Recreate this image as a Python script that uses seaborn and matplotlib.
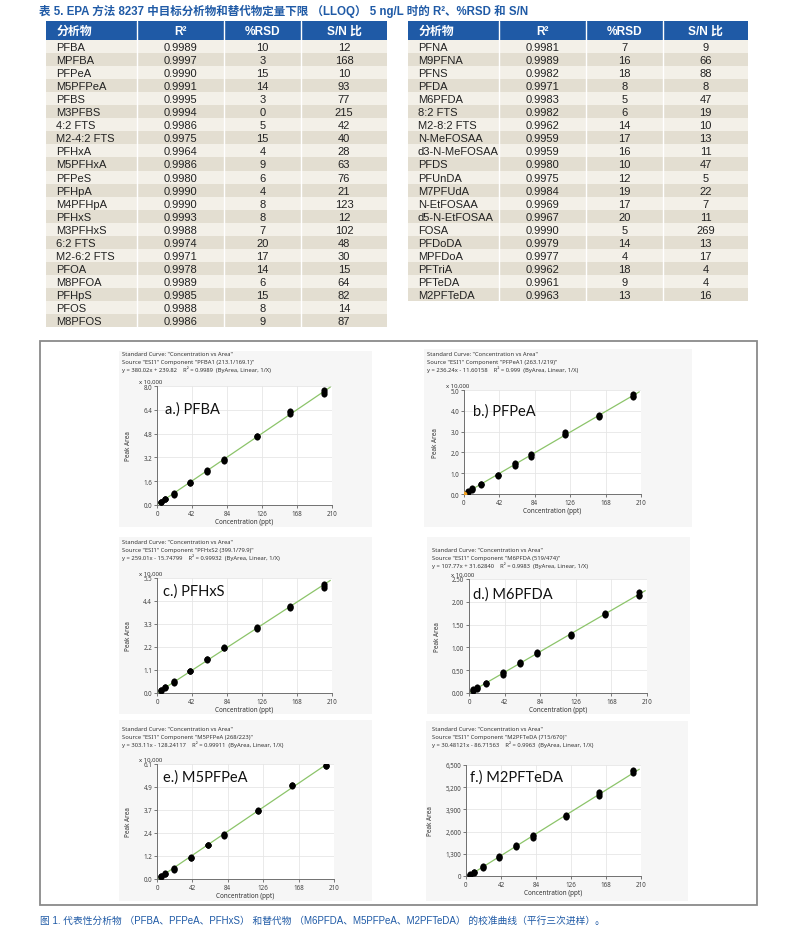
import numpy as np
import pandas as pd
import matplotlib
matplotlib.use("Agg")
import matplotlib.pyplot as plt
import seaborn as sns
from matplotlib.patches import Rectangle
from matplotlib.ticker import FixedLocator, FuncFormatter

# ---------------- data ----------------
left_analytes = ["PFBA", "MPFBA", "PFPeA", "M5PFPeA", "PFBS", "M3PFBS", "4:2 FTS", "M2-4:2 FTS",
                 "PFHxA", "M5PFHxA", "PFPeS", "PFHpA", "M4PFHpA", "PFHxS", "M3PFHxS", "6:2 FTS",
                 "M2-6:2 FTS", "PFOA", "M8PFOA", "PFHpS", "PFOS", "M8PFOS"]
left_r2 = ["0.9989", "0.9997", "0.9990", "0.9991", "0.9995", "0.9994", "0.9986", "0.9975",
           "0.9964", "0.9986", "0.9980", "0.9990", "0.9990", "0.9993", "0.9988", "0.9974",
           "0.9971", "0.9978", "0.9989", "0.9985", "0.9988", "0.9986"]
left_rsd = [10, 3, 15, 14, 3, 0, 5, 15, 4, 9, 6, 4, 8, 8, 7, 20, 17, 14, 6, 15, 8, 9]
left_sn = [12, 168, 10, 93, 77, 215, 42, 40, 28, 63, 76, 21, 123, 12, 102, 48, 30, 15, 64, 82, 14, 87]

right_analytes = ["PFNA", "M9PFNA", "PFNS", "PFDA", "M6PFDA", "8:2 FTS", "M2-8:2 FTS", "N-MeFOSAA",
                  "d3-N-MeFOSAA", "PFDS", "PFUnDA", "M7PFUdA", "N-EtFOSAA", "d5-N-EtFOSAA", "FOSA",
                  "PFDoDA", "MPFDoA", "PFTriA", "PFTeDA", "M2PFTeDA"]
right_r2 = ["0.9981", "0.9989", "0.9982", "0.9971", "0.9983", "0.9982", "0.9962", "0.9959",
            "0.9959", "0.9980", "0.9975", "0.9984", "0.9969", "0.9967", "0.9990", "0.9979",
            "0.9977", "0.9962", "0.9961", "0.9963"]
right_rsd = [7, 16, 18, 8, 5, 6, 14, 17, 16, 10, 12, 19, 17, 20, 5, 14, 4, 18, 9, 13]
right_sn = [9, 66, 88, 8, 47, 19, 10, 13, 11, 47, 5, 22, 7, 11, 269, 13, 17, 4, 4, 16]

table_headers = ["分析物", "R²", "%RSD", "S/N 比"]

conc = [5, 10, 20, 40, 60, 80, 120, 160, 200]

panel_labels = ["a.) PFBA", "b.) PFPeA", "c.) PFHxS", "d.) M6PFDA", "e.) M5PFPeA", "f.) M2PFTeDA"]
components = ["PFBA1 (213.1/169.1)", "PFPeA1 (263.1/219)", "PFHxS2 (399.1/79.9)",
              "M6PFDA (519/474)", "M5PFPeA (268/223)", "M2PFTeDA (715/670)"]
equations = ["y = 380.02x + 239.82", "y = 236.24x - 11.60158", "y = 259.01x - 15.74799",
             "y = 107.77x + 31.62840", "y = 303.11x - 128.24117", "y = 30.48121x - 86.71563"]
r2_text = ["0.9989", "0.999", "0.99932", "0.9983", "0.99911", "0.9963"]
slopes = [380.02, 236.24, 259.01, 107.77, 303.11, 30.48121]
intercepts = [239.82, -11.60158, -15.74799, 31.62840, -128.24117, -86.71563]
y_scale = [10000, 10000, 10000, 10000, 10000, 1]
y_max = [8.0, 5.0, 5.5, 2.5, 6.1, 6500]

# replicate peak areas (in displayed units) per concentration level
area_a = [[0.19, 0.21, 0.23], [0.37, 0.40, 0.43], [0.70, 0.76, 0.82], [1.47, 1.50, 1.53],
          [2.22, 2.30, 2.38], [2.98, 3.03, 3.08], [4.58, 4.62, 4.65], [6.15, 6.22, 6.30],
          [7.45, 7.58, 7.70]]
area_b = [[0.10, 0.12, 0.14], [0.21, 0.24, 0.27], [0.45, 0.47, 0.49], [0.88, 0.90, 0.92],
          [1.36, 1.42, 1.47], [1.80, 1.86, 1.92], [2.83, 2.90, 2.98], [3.72, 3.77, 3.82],
          [4.65, 4.72, 4.80]]
area_c = [[0.11, 0.13, 0.15], [0.25, 0.27, 0.29], [0.48, 0.53, 0.57], [1.03, 1.05, 1.07],
          [1.58, 1.61, 1.64], [2.13, 2.16, 2.19], [3.05, 3.11, 3.17], [4.05, 4.10, 4.16],
          [5.02, 5.12, 5.22]]
area_d = [[0.05, 0.06, 0.08], [0.09, 0.11, 0.13], [0.20, 0.21, 0.22], [0.40, 0.43, 0.46],
          [0.63, 0.66, 0.69], [0.86, 0.88, 0.91], [1.25, 1.27, 1.29], [1.70, 1.73, 1.76],
          [2.12, 2.16, 2.21]]
area_e = [[0.13, 0.15, 0.17], [0.27, 0.29, 0.31], [0.50, 0.55, 0.61], [1.10, 1.14, 1.19],
          [1.78, 1.80, 1.82], [2.27, 2.31, 2.37], [3.60, 3.62, 3.65], [4.93, 4.96, 4.99],
          [5.97, 6.01, 6.06]]
area_f = [[50, 70, 90], [200, 230, 260], [460, 520, 590], [1050, 1120, 1190],
          [1700, 1750, 1800], [2250, 2330, 2410], [3470, 3510, 3550], [4680, 4800, 4920],
          [6060, 6120, 6180]]
areas = [area_a, area_b, area_c, area_d, area_e, area_f]

x_ticks = [0, 42, 84, 126, 168, 210]

title_text = "表 5. EPA 方法 8237 中目标分析物和替代物定量下限 （LLOQ） 5 ng/L 时的 R²、%RSD 和 S/N"
caption_text = "图 1. 代表性分析物 （PFBA、PFPeA、PFHxS） 和替代物 （M6PFDA、M5PFPeA、M2PFTeDA） 的校准曲线（平行三次进样）。"

# ---------------- setup ----------------
sns.set_theme(style="white")
plt.rcParams["font.family"] = ["Liberation Sans", "Noto Sans CJK SC", "DejaVu Sans"]

W, H = 800, 937
fig = plt.figure(figsize=(W / 100, H / 100), dpi=100)
fig.patch.set_facecolor("white")

bg = fig.add_axes([0, 0, 1, 1], zorder=0)
bg.set_xlim(0, W)
bg.set_ylim(H, 0)
bg.axis("off")

BLUE = "#1f5aa6"
ROW_A = "#f3f0e8"
ROW_B = "#e3ded1"

# title
bg.text(39, 11, title_text, fontsize=8.3, fontweight="bold", color=BLUE, va="center", ha="left")


def draw_table(xe, top, hh, rh, cols):
    x0, x1 = xe[0], xe[-1]
    bg.add_patch(Rectangle((x0, top), x1 - x0, hh, facecolor=BLUE, edgecolor="none"))
    for j, h in enumerate(table_headers):
        if j == 0:
            bg.text(xe[0] + 11, top + hh / 2 + 0.5, h, color="white", fontsize=8.6, fontweight="bold",
                    ha="left", va="center")
        else:
            bg.text((xe[j] + xe[j + 1]) / 2, top + hh / 2 + 0.5, h, color="white", fontsize=8.6,
                    fontweight="bold", ha="center", va="center")
    n = len(cols[0])
    for i in range(n):
        y = top + hh + i * rh
        bg.add_patch(Rectangle((x0, y), x1 - x0, rh, facecolor=ROW_A if i % 2 == 0 else ROW_B,
                               edgecolor="none"))
        for j in range(4):
            val = str(cols[j][i])
            if j == 0:
                bg.text(xe[0] + 10, y + rh / 2 + 0.5, val, fontsize=8.0, color="#222222",
                        ha="left", va="center")
            else:
                bg.text((xe[j] + xe[j + 1]) / 2, y + rh / 2 + 0.5, val, fontsize=8.0,
                        color="#222222", ha="center", va="center")
    bottom = top + hh + n * rh
    for xv in xe[1:-1]:
        bg.plot([xv, xv], [top, bottom], color="white", lw=1.0)


draw_table([46, 137, 224, 301, 387], 22, 19, 13.05,
           [left_analytes, left_r2, left_rsd, left_sn])
draw_table([408, 499, 586, 663, 748], 22, 19, 13.05,
           [right_analytes, right_r2, right_rsd, right_sn])

# outer box of figure
bg.add_patch(Rectangle((40, 342), 717, 564, facecolor="none", edgecolor="#8a8a8a", lw=1.3))

# caption
bg.text(40, 921, caption_text, fontsize=7.0, color=BLUE, ha="left", va="center")

# panel geometry (pixels)
panel_bg = [(119, 352, 372, 528), (424, 350, 692, 528), (119, 538, 372, 715),
            (427, 538, 690, 715), (119, 721, 372, 902), (426, 722, 688, 902)]
axes_box = [(157, 387, 332, 506), (464, 391, 641, 495), (157, 579, 332, 694),
            (469, 580, 647, 694), (157, 765, 334, 880), (466, 766, 641, 877)]
head_pos = [(122, 355), (427, 355), (122, 543), (432, 551), (122, 730), (432, 730)]
lab_pos = [(165, 410), (473, 412), (163, 592), (473, 595), (163, 778), (470, 778)]

SMALL = ["Noto Sans", "DejaVu Sans"]

for k in range(6):
    lx, ty, rx, by = panel_bg[k]
    bg.add_patch(Rectangle((lx, ty), rx - lx, by - ty, facecolor="#f6f6f6", edgecolor="none"))
    ax0, ay0, ax1, ay1 = axes_box[k]
    hx, hy = head_pos[k]
    lines = ['Standard Curve: "Concentration vs Area"',
             'Source "ESI1" Component "%s"' % components[k],
             '%s    R² = %s  (ByArea, Linear, 1/X)' % (equations[k], r2_text[k])]
    for li, t in enumerate(lines):
        bg.text(hx, hy + li * 7.3, t, fontsize=4.2, family=SMALL, color="#333333",
                ha="left", va="center")

    ax = fig.add_axes([ax0 / W, 1 - ay1 / H, (ax1 - ax0) / W, (ay1 - ay0) / H], zorder=2)
    ax.set_facecolor("white")
    rows = []
    for c, reps in zip(conc, areas[k]):
        for v in reps:
            rows.append({"conc": c, "area": v})
    df = pd.DataFrame(rows)
    xs = np.array([0, 208])
    line_df = pd.DataFrame({"conc": xs, "area": (slopes[k] * xs + intercepts[k]) / y_scale[k]})
    sns.lineplot(data=line_df, x="conc", y="area", ax=ax, color="#8cc46a", lw=0.9, zorder=2)
    sns.scatterplot(data=df, x="conc", y="area", ax=ax, color="black", s=16, edgecolor="black",
                    linewidth=0.3, zorder=3)
    if k == 1:
        ax.scatter([0], [0], s=10, color="#f0a020", zorder=4)
    ax.set_xlim(0, 210)
    ax.set_ylim(0, y_max[k])
    yt = np.linspace(0, y_max[k], 6)
    ax.yaxis.set_major_locator(FixedLocator(yt))
    ax.xaxis.set_major_locator(FixedLocator(x_ticks))
    if k == 3:
        ax.yaxis.set_major_formatter(FuncFormatter(lambda v, p: "%.2f" % v))
    elif k == 5:
        ax.yaxis.set_major_formatter(FuncFormatter(lambda v, p: "{:,}".format(int(round(v)))))
    else:
        ax.yaxis.set_major_formatter(FuncFormatter(lambda v, p: "%.1f" % v))
    ax.grid(True, color="#e6e6e6", lw=0.6)
    ax.set_axisbelow(True)
    for s in ["top", "right"]:
        ax.spines[s].set_visible(False)
    for s in ["left", "bottom"]:
        ax.spines[s].set_color("#707070")
        ax.spines[s].set_linewidth(0.7)
    ax.tick_params(axis="both", which="both", labelsize=4.5, length=2, width=0.5, pad=1.5,
                   colors="#444444", bottom=True, left=True)
    for lab in ax.get_xticklabels() + ax.get_yticklabels():
        lab.set_family(SMALL)
    ax.set_xlabel("Concentration (ppt)", fontsize=4.6, family=SMALL, color="#333333", labelpad=0.5)
    ax.set_ylabel("Peak Area", fontsize=4.6, family=SMALL, color="#333333", labelpad=8)
    if k < 5:
        bg.text(ax0 - 18, ay0 - 5, "x 10,000", fontsize=4.3, family=SMALL, color="#333333",
                ha="left", va="center")
    px, py = lab_pos[k]
    fig.text(px / W, 1 - py / H, panel_labels[k], fontsize=10.5, family=["Lato", "DejaVu Sans"],
             color="#111111", ha="left", va="center", zorder=10)

fig.savefig("out.png", dpi=100, facecolor="white")
